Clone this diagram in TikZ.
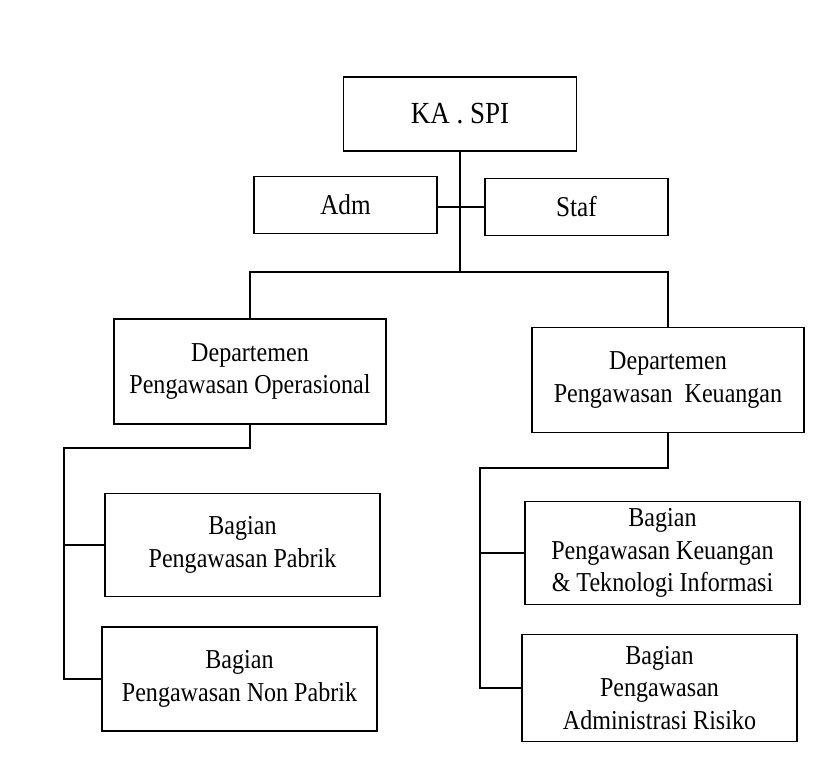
\documentclass[tikz,border=0pt]{standalone}
\usepackage{fontspec}
\setmainfont{Liberation Serif}[FakeStretch=0.88]
\usetikzlibrary{positioning}

\begin{document}
\begin{tikzpicture}[
  x=0.75pt, y=-0.75pt,
  every node/.style={font=\fontsize{20.5}{24.5}\selectfont},
  head/.style={rectangle,draw,line width=1.1pt,minimum width=174.75pt,minimum height=55.5pt,font=\fontsize{23}{27}\selectfont},
  staff/.style={rectangle,draw,line width=1.1pt,minimum width=137.25pt,minimum height=43pt,font=\fontsize{21.5}{25}\selectfont},
  dept/.style={rectangle,draw,line width=1.1pt,align=center,minimum width=204pt,minimum height=79pt},
  unit/.style={rectangle,draw,line width=1.1pt,align=center,minimum width=206pt,minimum height=77pt},
  line/.style={-,line width=0.9pt}
]
\useasboundingbox[fill=white] (0,0) rectangle (821,784);

% Top
\node[head] (kaspi) at (460,114) {KA . SPI};
\node[staff] (adm) at (345.5,205) {Adm};
\node[staff] (staf) at (576.5,207) {Staf};

% Departments
\node[dept] (opr) at (250,371.5) {Departemen\\Pengawasan Operasional};
\node[dept] (keu) at (668,380) {Departemen\\Pengawasan\ \ Keuangan};

% Sections
\node[unit] (pabrik) at (242.5,545) {Bagian\\Pengawasan Pabrik};
\node[unit, minimum height=78pt] (nonpabrik) at (239.5,679) {Bagian\\Pengawasan Non Pabrik};
\node[unit] (kti) at (662.5,553) {Bagian\\Pengawasan Keuangan\\\& Teknologi Informasi};
\node[unit, minimum height=80pt] (risiko) at (659.5,688) {Bagian\\Pengawasan\\Administrasi Risiko};

% Links
\coordinate (jct) at (460,272);
\coordinate (lbus) at (64,448);
\coordinate (rbus) at (480,468);

\draw[line] (kaspi) -- (jct);
\draw[line] (adm.east |- staf.west) -- (staf.west);
\draw[line] (opr.north) |- (jct) -| (keu.north);

\draw[line] (opr.south) |- (lbus) |- (nonpabrik.west);
\draw[line] (lbus |- pabrik.west) -- (pabrik.west);

\draw[line] (keu.south) |- (rbus) |- (risiko.west);
\draw[line] (rbus |- kti.west) -- (kti.west);
\end{tikzpicture}
\end{document}
